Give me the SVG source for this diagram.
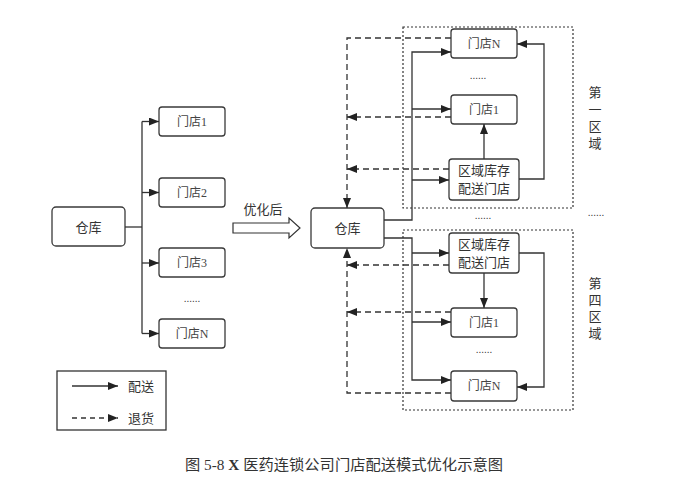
<svg xmlns="http://www.w3.org/2000/svg" width="691" height="495" viewBox="0 0 691 495">
<style>
.box{fill:#fff;stroke:#3a3a3a;stroke-width:1.3}
.t{font-family:"Liberation Serif","Noto Sans CJK SC",serif;font-size:12px;fill:#444;text-anchor:middle}
.t2{font-family:"Liberation Serif","Noto Sans CJK SC",serif;font-size:13px;fill:#333;text-anchor:middle}
.s{fill:none;stroke:#333;stroke-width:1.3}
.d{fill:none;stroke:#333;stroke-width:1.3;stroke-dasharray:6,4}
.dot{fill:none;stroke:#333;stroke-width:1.2;stroke-dasharray:2,2}
.dots{font-family:"Liberation Sans",sans-serif;font-size:10px;fill:#333;text-anchor:middle}
</style>
<defs>
<marker id="ah" markerUnits="userSpaceOnUse" markerWidth="11" markerHeight="9" refX="10" refY="4" orient="auto">
<path d="M0,0 L10,4 L0,8 z" fill="#222"/>
</marker>
</defs>

<!-- left side -->
<g id="left-warehouse"><rect class="box" x="52" y="207" width="73" height="39" rx="4"/><text class="t2" x="88.5" y="231.5">仓库</text></g>
<g id="left-store1"><rect class="box" x="159" y="107" width="66" height="29" rx="3"/><text class="t" x="192" y="126">门店1</text></g>
<g id="left-store2"><rect class="box" x="159" y="178" width="66" height="29" rx="3"/><text class="t" x="192" y="197">门店2</text></g>
<g id="left-store3"><rect class="box" x="159" y="248" width="66" height="29" rx="3"/><text class="t" x="192" y="267">门店3</text></g>
<g id="left-storeN"><rect class="box" x="159" y="319" width="66" height="29" rx="3"/><text class="t" x="192" y="338">门店N</text></g>
<text class="dots" x="192" y="302">......</text>

<!-- transform arrow -->
<g id="optimize">
<polygon points="233,223 289,223 289,218 300,228 289,238 289,233 233,233" fill="#fff" stroke="#333" stroke-width="1.2"/>
<text class="t2" x="263" y="214">优化后</text>
</g>

<!-- regions -->
<rect class="dot" x="403" y="27" width="170" height="181"/>
<rect class="dot" x="403" y="230" width="170" height="180"/>

<!-- right side nodes -->
<g id="right-warehouse"><rect class="box" x="311" y="208" width="73" height="40" rx="4"/><text class="t2" x="347.5" y="232.5">仓库</text></g>
<g id="r1-storeN"><rect class="box" x="451" y="29" width="66" height="29" rx="3"/><text class="t" x="484" y="48">门店N</text></g>
<g id="r1-store1"><rect class="box" x="451" y="95" width="66" height="29" rx="3"/><text class="t" x="484" y="114">门店1</text></g>
<g id="r1-hub"><rect class="box" x="449" y="159" width="70" height="41" rx="3"/><text class="t2" x="484" y="175">区域库存</text><text class="t2" x="484" y="193">配送门店</text></g>
<text class="dots" x="478" y="79">......</text>
<g id="r4-hub"><rect class="box" x="449" y="233" width="70" height="40" rx="3"/><text class="t2" x="484" y="249">区域库存</text><text class="t2" x="484" y="267">配送门店</text></g>
<g id="r4-store1"><rect class="box" x="451" y="308" width="66" height="29" rx="3"/><text class="t" x="484" y="327">门店1</text></g>
<g id="r4-storeN"><rect class="box" x="451" y="371" width="66" height="30" rx="3"/><text class="t" x="484" y="390">门店N</text></g>
<text class="dots" x="484" y="353">......</text>
<text class="dots" x="483" y="219">......</text>
<text class="dots" x="596" y="216">......</text>

<g id="region-labels" class="t2">
<text x="595" y="97">第</text><text x="595" y="114">一</text><text x="595" y="131">区</text><text x="595" y="148">域</text>
<text x="595" y="288">第</text><text x="595" y="305">四</text><text x="595" y="321">区</text><text x="595" y="338">域</text>
</g>

<!-- connectors -->
<g id="connectors">
<path class="s" d="M125,227 H142"/>
<path class="s" d="M142,121.5 V333.5"/>
<path class="s" d="M142,121.5 H159" marker-end="url(#ah)"/>
<path class="s" d="M142,192.5 H159" marker-end="url(#ah)"/>
<path class="s" d="M142,263 H159" marker-end="url(#ah)"/>
<path class="s" d="M142,333.5 H159" marker-end="url(#ah)"/>

<path class="s" d="M384,220 H412 V52 H451" marker-end="url(#ah)"/>
<path class="s" d="M412,109 H451" marker-end="url(#ah)"/>
<path class="s" d="M412,180 H449" marker-end="url(#ah)"/>
<path class="s" d="M484,159 V124" marker-end="url(#ah)"/>
<path class="s" d="M519,179 H544 V44 H517" marker-end="url(#ah)"/>

<path class="s" d="M384,238 H412 V380 H451" marker-end="url(#ah)"/>
<path class="s" d="M412,253 H449" marker-end="url(#ah)"/>
<path class="s" d="M412,322 H451" marker-end="url(#ah)"/>
<path class="s" d="M484,273 V308" marker-end="url(#ah)"/>
<path class="s" d="M519,253 H544 V387 H517" marker-end="url(#ah)"/>

<path class="d" d="M451,38 H347 V208" marker-end="url(#ah)"/>
<path class="d" d="M451,117 H347" marker-end="url(#ah)"/>
<path class="d" d="M449,169 H347" marker-end="url(#ah)"/>
<path class="d" d="M449,265 H347" marker-end="url(#ah)"/>
<path class="d" d="M451,312 H347" marker-end="url(#ah)"/>
<path class="d" d="M451,393 H347 V248" marker-end="url(#ah)"/>
</g>

<!-- legend -->
<g id="legend">
<rect x="57" y="371" width="109" height="59" fill="#fff" stroke="#333" stroke-width="1.3"/>
<path class="s" d="M72,386 H118" marker-end="url(#ah)"/>
<path class="d" d="M72,418 H118" marker-end="url(#ah)" style="stroke-dasharray:5,4"/>
<text class="t2" x="141" y="391">配送</text>
<text class="t2" x="141" y="423">退货</text>
</g>

<text x="344" y="470" font-family="'Liberation Serif','Noto Sans CJK SC',serif" font-size="14.5" fill="#333" text-anchor="middle" textLength="318" lengthAdjust="spacingAndGlyphs">图 5-8 <tspan font-weight="bold">X</tspan> 医药连锁公司门店配送模式优化示意图</text>
</svg>
